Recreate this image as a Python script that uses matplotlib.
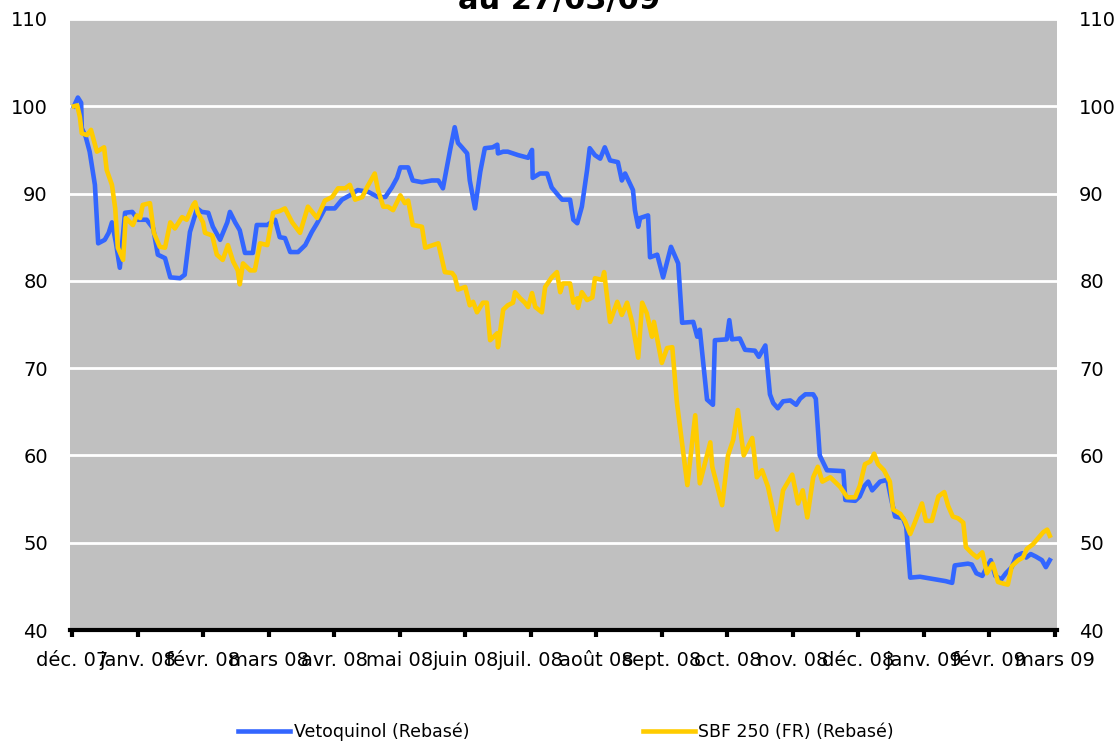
import matplotlib
matplotlib.use("Agg")
import matplotlib.pyplot as plt

# x positions: months elapsed since 27/12/07 (tick 0 = "déc. 07")
veto_x = [0.03, 0.09, 0.14, 0.15, 0.21, 0.27, 0.35, 0.40, 0.50, 0.56, 0.61, 0.67, 0.73, 0.81, 0.92,
          1.01, 1.14, 1.24, 1.31, 1.42, 1.50, 1.65, 1.72, 1.80, 1.91, 1.98, 2.08, 2.15, 2.26, 2.37,
          2.41, 2.49, 2.56, 2.64, 2.76, 2.82, 2.98, 3.10, 3.17, 3.25, 3.33, 3.45, 3.56, 3.66, 3.74,
          3.86, 4.01, 4.12, 4.24, 4.36, 4.52, 4.67, 4.78, 4.88, 4.96, 5.01, 5.13, 5.20, 5.34, 5.49,
          5.59, 5.66, 5.77, 5.84, 5.89, 5.95, 6.03, 6.07, 6.15, 6.23, 6.30, 6.42, 6.49, 6.50, 6.58,
          6.65, 6.81, 6.96, 7.02, 7.03, 7.14, 7.25, 7.32, 7.42, 7.48, 7.60, 7.65, 7.71, 7.78, 7.86,
          7.90, 7.98, 8.06, 8.13, 8.21, 8.33, 8.39, 8.44, 8.56, 8.59, 8.64, 8.67, 8.79, 8.82, 8.93,
          9.02, 9.14, 9.25, 9.31, 9.48, 9.54, 9.58, 9.69, 9.78, 9.81, 9.99, 10.03, 10.07, 10.19, 10.27,
          10.42, 10.48, 10.58, 10.65, 10.70, 10.77, 10.85, 10.96, 11.05, 11.11, 11.19, 11.31, 11.35, 11.41, 11.52,
          11.77, 11.80, 11.95, 12.02, 12.09, 12.15, 12.21, 12.27, 12.33, 12.44, 12.50, 12.56, 12.68, 12.73, 12.79,
          12.94, 13.17, 13.33, 13.43, 13.47, 13.67, 13.73, 13.80, 13.89, 13.96, 14.02, 14.09, 14.18, 14.25, 14.34,
          14.41, 14.50, 14.56, 14.63, 14.71, 14.80, 14.86, 14.92]
veto_y = [100.0, 101.0, 100.4, 97.5, 96.5, 94.8, 91.0, 84.3, 84.7, 85.5, 86.7, 84.4, 81.5, 87.8, 87.9,
          87.0, 87.0, 86.0, 83.0, 82.6, 80.4, 80.3, 80.7, 85.6, 88.3, 87.9, 87.8, 86.2, 84.7, 86.7,
          87.9, 86.7, 85.8, 83.2, 83.2, 86.4, 86.4, 87.0, 85.0, 84.9, 83.3, 83.3, 84.1, 85.6, 86.6,
          88.3, 88.3, 89.3, 89.8, 90.4, 90.2, 89.6, 89.6, 90.7, 91.8, 93.0, 93.0, 91.5, 91.3, 91.5,
          91.5, 90.6, 95.0, 97.6, 95.8, 95.3, 94.6, 91.5, 88.3, 92.5, 95.2, 95.3, 95.6, 94.6, 94.8,
          94.8, 94.4, 94.1, 95.0, 91.8, 92.3, 92.3, 90.7, 89.8, 89.3, 89.3, 87.0, 86.6, 88.5, 92.7,
          95.2, 94.4, 94.0, 95.3, 93.8, 93.6, 91.5, 92.3, 90.4, 88.1, 86.2, 87.2, 87.5, 82.7, 83.0,
          80.4, 83.9, 82.0, 75.2, 75.3, 73.6, 74.4, 66.4, 65.8, 73.2, 73.3, 75.5, 73.3, 73.4, 72.1,
          72.0, 71.3, 72.6, 67.0, 66.0, 65.4, 66.2, 66.3, 65.8, 66.5, 67.0, 67.0, 66.5, 60.0, 58.3,
          58.2, 54.9, 54.8, 55.3, 56.5, 57.0, 56.0, 56.5, 57.0, 57.2, 55.0, 53.0, 52.8, 51.8, 46.0,
          46.1, 45.8, 45.6, 45.4, 47.4, 47.6, 47.5, 46.5, 46.2, 47.2, 48.0, 46.2, 45.8, 46.5, 47.2,
          48.5, 48.8, 48.3, 48.7, 48.4, 48.0, 47.2, 48.0]

sbf_x = [0.03, 0.08, 0.12, 0.15, 0.23, 0.29, 0.38, 0.49, 0.53, 0.61, 0.66, 0.70, 0.78, 0.82, 0.93,
         0.99, 1.04, 1.08, 1.19, 1.25, 1.34, 1.42, 1.50, 1.57, 1.68, 1.75, 1.85, 1.88, 1.92, 2.00,
         2.03, 2.14, 2.21, 2.30, 2.38, 2.46, 2.53, 2.56, 2.61, 2.72, 2.79, 2.87, 2.98, 3.07, 3.17,
         3.25, 3.36, 3.48, 3.60, 3.74, 3.86, 3.97, 4.06, 4.17, 4.24, 4.32, 4.43, 4.50, 4.62, 4.67,
         4.75, 4.82, 4.90, 5.01, 5.08, 5.13, 5.20, 5.34, 5.39, 5.51, 5.59, 5.69, 5.80, 5.84, 5.89,
         6.00, 6.07, 6.12, 6.18, 6.27, 6.33, 6.38, 6.49, 6.50, 6.58, 6.65, 6.73, 6.76, 6.84, 6.91,
         6.96, 7.02, 7.07, 7.17, 7.22, 7.32, 7.40, 7.45, 7.49, 7.60, 7.65, 7.71, 7.72, 7.78, 7.86,
         7.94, 7.98, 8.09, 8.12, 8.21, 8.32, 8.39, 8.47, 8.55, 8.64, 8.70, 8.77, 8.85, 8.88, 9.00,
         9.08, 9.16, 9.23, 9.31, 9.39, 9.51, 9.58, 9.74, 9.77, 9.92, 10.01, 10.09, 10.16, 10.25, 10.38,
         10.45, 10.53, 10.62, 10.76, 10.85, 10.99, 11.08, 11.15, 11.22, 11.31, 11.38, 11.45, 11.57, 11.72, 11.83,
         11.95, 12.02, 12.10, 12.18, 12.24, 12.30, 12.39, 12.48, 12.53, 12.64, 12.71, 12.79, 12.86, 12.97, 13.03,
         13.12, 13.22, 13.31, 13.37, 13.44, 13.52, 13.60, 13.64, 13.73, 13.81, 13.89, 13.96, 14.05, 14.13, 14.22,
         14.28, 14.34, 14.44, 14.51, 14.57, 14.66, 14.74, 14.82, 14.88, 14.92]
sbf_y = [100.0, 100.1, 98.8, 96.9, 96.7, 97.3, 94.8, 95.3, 92.7, 91.0, 88.3, 83.8, 82.4, 87.2, 86.4,
         87.5, 87.2, 88.7, 88.9, 85.5, 83.9, 83.8, 86.7, 86.0, 87.3, 87.0, 88.7, 89.0, 87.8, 86.7,
         85.5, 85.2, 83.0, 82.4, 84.1, 82.2, 81.2, 79.6, 82.0, 81.2, 81.2, 84.3, 84.1, 87.8, 88.0,
         88.3, 86.7, 85.5, 88.5, 87.2, 89.2, 89.6, 90.6, 90.6, 91.0, 89.3, 89.6, 90.7, 92.3, 90.4,
         88.5, 88.5, 88.1, 89.8, 88.9, 89.2, 86.4, 86.2, 83.8, 84.1, 84.3, 81.0, 80.9, 80.5, 79.0,
         79.3, 77.2, 77.6, 76.4, 77.5, 77.5, 73.2, 74.0, 72.4, 76.7, 77.2, 77.5, 78.7, 78.0, 77.5,
         77.0, 78.6, 77.0, 76.4, 79.3, 80.4, 81.0, 78.7, 79.7, 79.7, 77.5, 78.0, 76.9, 78.7, 77.8,
         78.1, 80.3, 80.1, 81.0, 75.3, 77.6, 76.1, 77.5, 75.2, 71.2, 77.5, 76.3, 73.6, 75.3, 70.6,
         72.3, 72.4, 66.1, 61.4, 56.6, 64.6, 56.8, 61.5, 58.7, 54.3, 60.0, 61.8, 65.2, 60.0, 62.0,
         57.5, 58.3, 56.4, 51.5, 56.0, 57.8, 54.5, 56.0, 52.9, 57.5, 58.7, 57.0, 57.5, 56.4, 55.2,
         55.2, 56.5, 59.0, 59.3, 60.2, 59.0, 58.3, 57.0, 53.8, 53.3, 52.5, 51.0, 52.3, 54.5, 52.5,
         52.5, 55.3, 55.8, 54.2, 53.0, 52.8, 52.3, 49.5, 48.8, 48.3, 48.9, 46.5, 47.6, 45.5, 45.3,
         45.2, 47.3, 48.0, 48.3, 49.3, 49.8, 50.5, 51.2, 51.5, 50.8]

month_labels = ["déc. 07", "janv. 08", "févr. 08", "mars 08", "avr. 08", "mai 08", "juin 08",
                "juil. 08", "août 08", "sept. 08", "oct. 08", "nov. 08", "déc. 08", "janv. 09",
                "févr. 09", "mars 09"]
y_ticks = [40, 50, 60, 70, 80, 90, 100, 110]

W, H = 1118, 744
fig = plt.figure(figsize=(W / 100, H / 100), dpi=100)
ax = fig.add_axes([70 / W, (H - 630) / H, (1057 - 70) / W, (630 - 19) / H])
ax.set_facecolor("#C0C0C0")

ax.plot(veto_x, veto_y, color="#3366FF", lw=3.3, solid_joinstyle="round", label="Vetoquinol (Rebasé)", zorder=3)
ax.plot(sbf_x, sbf_y, color="#FFCC00", lw=3.3, solid_joinstyle="round", label="SBF 250 (FR) (Rebasé)", zorder=4)

ax.set_ylim(40, 110)
ax.set_yticks(y_ticks)
ax.set_xlim(-0.03, len(month_labels) - 1 + 0.03)
ax.set_xticks(range(len(month_labels)))
ax.set_xticklabels(month_labels, fontsize=14)
ax.yaxis.grid(True, color="white", lw=2)
ax.set_axisbelow(True)

for s in ["left", "right", "top"]:
    ax.spines[s].set_visible(False)
ax.spines["bottom"].set_linewidth(3)
ax.spines["bottom"].set_color("black")
ax.spines["bottom"].set_zorder(5)

ax.tick_params(axis="x", length=5, width=3, direction="out", pad=10, colors="black")
ax.tick_params(axis="y", length=0, pad=16, labelsize=14, labelleft=True, labelright=True)

fig.text(0.5, 1 - 9 / H, "au 27/03/09", ha="center", va="baseline", fontsize=22, fontweight="bold")

fig.legend(loc="center", bbox_to_anchor=(566 / W, 12 / H), ncol=2, frameon=False, fontsize=12.5,
           handlelength=3.0, handletextpad=0.2, columnspacing=10)

fig.savefig("out.png", dpi=100)
